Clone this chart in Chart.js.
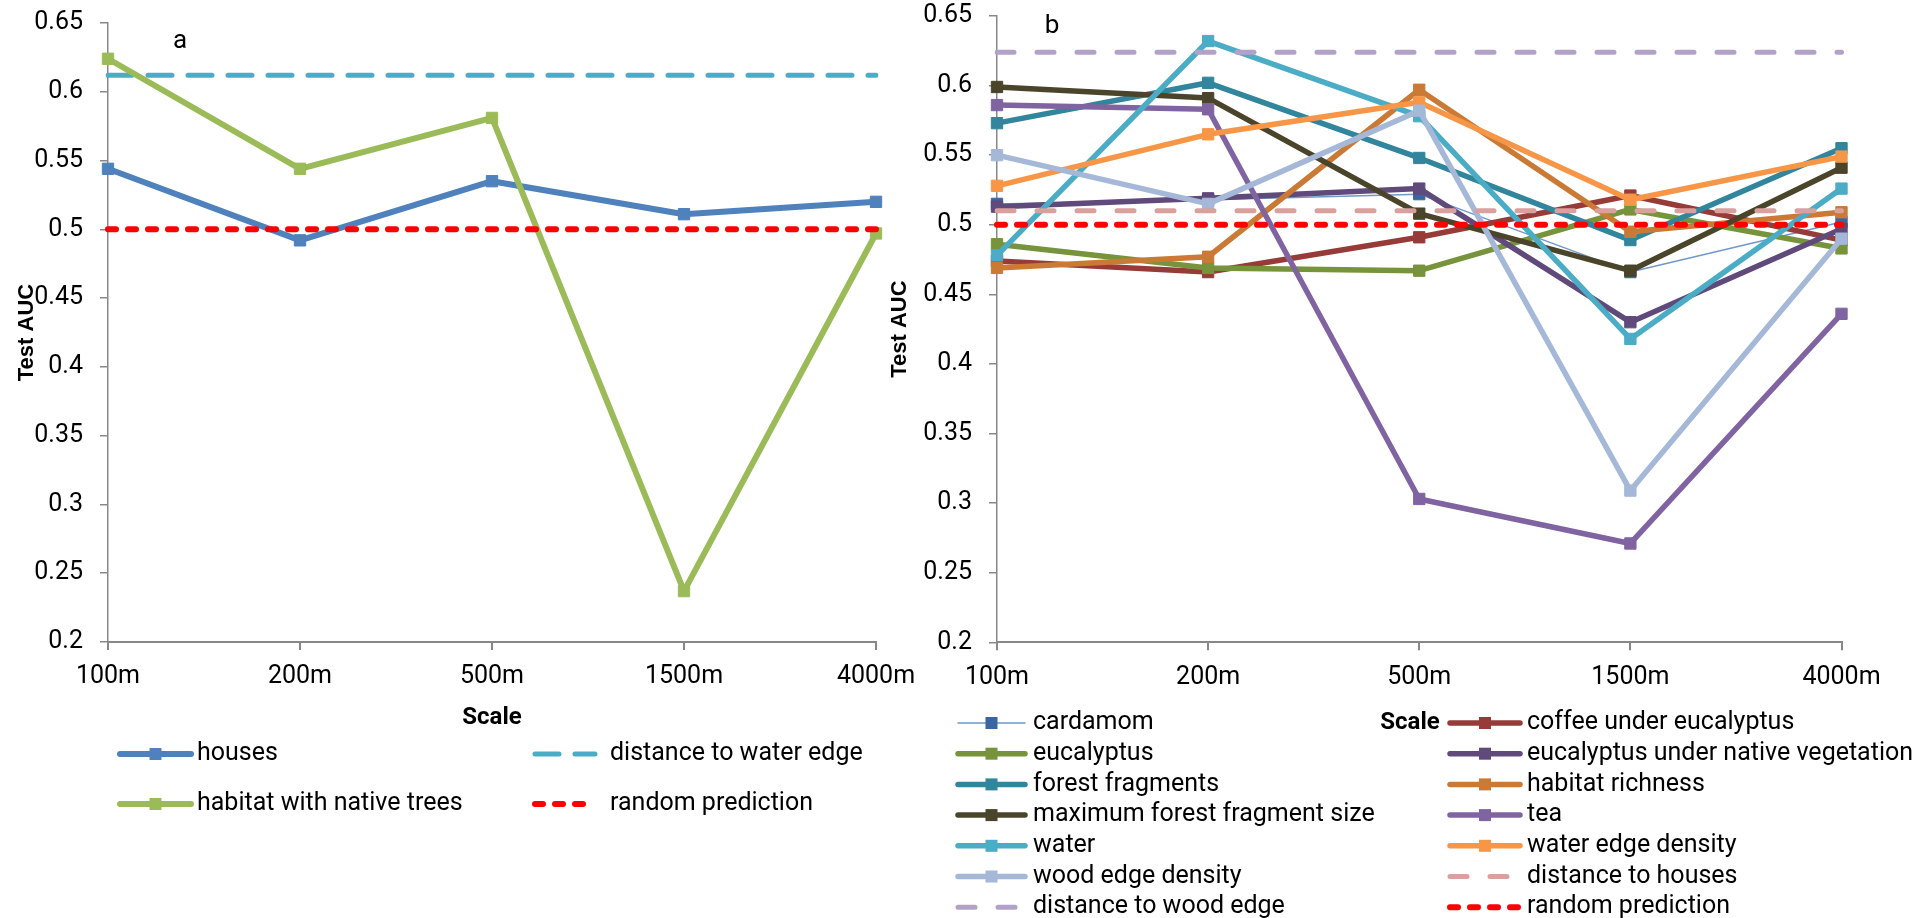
<!DOCTYPE html>
<html lang="en">
<head>
    <meta charset="UTF-8">
    <title>Test AUC by scale</title>
    <style>
        body { margin: 0; background: #fff; }
        .panel { position: absolute; top: 0; height: 918px; }
        #panelA { left: 0; width: 930px; }
        #panelB { left: 870px; width: 1058px; }
    </style>
    <script src="https://cdn.jsdelivr.net/npm/chart.js"></script>
</head>
<body>
    <div class="panel" id="panelA"><canvas id="chartA"></canvas></div>
    <div class="panel" id="panelB"><canvas id="chartB"></canvas></div>

    <script>
        // categories and tick labels
        const scaleLabels = ['100m', '200m', '500m', '1500m', '4000m'];
        const yTicks = [0.2, 0.25, 0.3, 0.35, 0.4, 0.45, 0.5, 0.55, 0.6, 0.65];

        // panel a
        const houses = [0.544, 0.492, 0.535, 0.511, 0.520];
        const distanceToWaterEdge = [0.612, 0.612, 0.612, 0.612, 0.612];
        const habitatNativeTrees = [0.624, 0.544, 0.581, 0.237, 0.497];
        const randomPrediction = [0.5, 0.5, 0.5, 0.5, 0.5];

        // panel b
        const cardamom = [0.515, 0.518, 0.522, 0.466, 0.502];
        const coffeeUnderEucalyptus = [0.474, 0.466, 0.491, 0.521, 0.489];
        const eucalyptus = [0.486, 0.469, 0.467, 0.511, 0.483];
        const eucalyptusUnderNative = [0.513, 0.519, 0.526, 0.430, 0.497];
        const forestFragments = [0.573, 0.602, 0.548, 0.489, 0.555];
        const habitatRichness = [0.469, 0.477, 0.597, 0.495, 0.509];
        const maxForestFragment = [0.599, 0.591, 0.508, 0.467, 0.541];
        const tea = [0.586, 0.583, 0.303, 0.271, 0.436];
        const water = [0.478, 0.632, 0.578, 0.418, 0.526];
        const waterEdgeDensity = [0.528, 0.565, 0.588, 0.518, 0.549];
        const woodEdgeDensity = [0.550, 0.515, 0.582, 0.309, 0.490];
        const distanceToHouses = [0.51, 0.51, 0.51, 0.51, 0.51];
        const distanceToWoodEdge = [0.624, 0.624, 0.624, 0.624, 0.624];

        Chart.defaults.font.family = 'Roboto';
        Chart.defaults.color = '#000';

        function solid(label, data, color, width, marker) {
            return {
                label: label, data: data,
                borderColor: color, borderWidth: width,
                pointStyle: 'rect', pointRadius: 8, pointHoverRadius: 8,
                pointBackgroundColor: marker || color, pointBorderColor: marker || color,
                pointBorderWidth: 1,
                borderCapStyle: 'round', borderJoinStyle: 'round',
                tension: 0, fill: false
            };
        }

        function dashed(label, data, color, width, dash) {
            return {
                label: label, data: data,
                borderColor: color, borderWidth: width, borderDash: dash,
                borderCapStyle: 'round', pointRadius: 0, pointHoverRadius: 0,
                tension: 0, fill: false
            };
        }

        // legend drawn in two columns, like the original, plus axis title and panel letter
        const legendPlugin = {
            id: 'twoColLegend',
            afterDraw(chart, args, opts) {
                const ctx = chart.ctx;
                const dx = opts.offsetX;
                ctx.save();
                chart.data.datasets.forEach((ds, i) => {
                    const c = opts.columns[i % 2];
                    const y = opts.rowTop + Math.floor(i / 2) * opts.rowGap;
                    const x0 = c.x - dx;
                    ctx.save();
                    ctx.strokeStyle = ds.borderColor;
                    ctx.lineWidth = ds.borderWidth;
                    ctx.lineCap = 'round';
                    ctx.setLineDash(ds.borderDash || []);
                    ctx.beginPath();
                    ctx.moveTo(x0, y);
                    ctx.lineTo(x0 + c.len, y);
                    ctx.stroke();
                    ctx.restore();
                    if (ds.pointRadius > 0) {
                        ctx.fillStyle = ds.pointBackgroundColor;
                        ctx.fillRect(x0 + c.len / 2 - 6, y - 6, 12, 12);
                    }
                    ctx.fillStyle = '#000';
                    ctx.font = '25px Roboto';
                    ctx.textBaseline = 'middle';
                    ctx.textAlign = 'left';
                    ctx.fillText(ds.label, c.textX - dx, y);
                });
                ctx.textAlign = 'center';
                ctx.font = 'bold 24px Roboto';
                ctx.fillText('Scale', opts.xTitle.x - dx, opts.xTitle.y);
                ctx.font = '26px Roboto';
                ctx.textBaseline = 'alphabetic';
                ctx.fillText(opts.letter.text, opts.letter.x - dx, opts.letter.y);
                ctx.restore();
            }
        };

        function makeChart(id, datasets, cfg) {
            datasets.forEach((d, i) => { d.order = -i; });
            return new Chart(document.getElementById(id), {
                type: 'line',
                data: { labels: scaleLabels, datasets: datasets },
                plugins: [legendPlugin],
                options: {
                    responsive: true,
                    maintainAspectRatio: false,
                    animation: false,
                    events: [],
                    layout: { padding: { left: 0, top: cfg.top, right: cfg.right, bottom: 0 } },
                    plugins: {
                        legend: { display: false },
                        tooltip: { enabled: false },
                        twoColLegend: cfg.legend
                    },
                    scales: {
                        x: {
                            offset: false,
                            grid: { drawOnChartArea: false, drawTicks: true, tickLength: 8, color: '#888', lineWidth: 2, offset: false },
                            border: { color: '#888', width: 2 },
                            ticks: { font: { size: 25 }, padding: 12, maxRotation: 0, autoSkip: false },
                            afterFit: s => { s.height = cfg.xHeight; }
                        },
                        y: {
                            min: 0.2, max: 0.65,
                            afterBuildTicks: s => { s.ticks = yTicks.map(v => ({ value: v })); },
                            grid: { drawOnChartArea: false, drawTicks: true, tickLength: 8, color: '#888', lineWidth: 1.5 },
                            border: { color: '#888', width: 1.5 },
                            ticks: { font: { size: 25 }, padding: 17, callback: v => String(v) },
                            title: { display: true, text: 'Test AUC', font: { family: 'Liberation Sans', size: 22, weight: 'bold' }, padding: { top: cfg.yTitlePad, bottom: 0 } },
                            afterFit: s => {
                                s.width = cfg.yWidth;
                                s.paddingTop = 0;
                                s.paddingBottom = 0;
                            }
                        }
                    }
                }
            });
        }

        makeChart('chartA', [
            solid('houses', houses, '#4F81BD', 6),
            dashed('distance to water edge', distanceToWaterEdge, '#4BACC6', 5, [24, 16]),
            solid('habitat with native trees', habitatNativeTrees, '#9BBB59', 6),
            dashed('random prediction', randomPrediction, '#FF0000', 6, [8, 12])
        ], {
            top: 23, right: 54, xHeight: 276, yWidth: 108, yTitlePad: 14,
            legend: {
                offsetX: 0, rowTop: 754, rowGap: 50,
                columns: [{ x: 120, len: 71, textX: 197 }, { x: 535, len: 60, textX: 610 }],
                xTitle: { x: 492, y: 718 },
                letter: { text: 'a', x: 180, y: 48 }
            }
        });

        makeChart('chartB', [
            solid('cardamom', cardamom, '#7198C8', 1.5, '#3B64A3'),
            solid('coffee under eucalyptus', coffeeUnderEucalyptus, '#973B39', 5.5),
            solid('eucalyptus', eucalyptus, '#77933C', 5.5),
            solid('eucalyptus under native vegetation', eucalyptusUnderNative, '#604A7B', 5.5),
            solid('forest fragments', forestFragments, '#31859C', 5.5),
            solid('habitat richness', habitatRichness, '#CB7A36', 5.5),
            solid('maximum forest fragment size', maxForestFragment, '#4A452A', 5.5),
            solid('tea', tea, '#8064A2', 5.5),
            solid('water', water, '#4BACC6', 5.5),
            solid('water edge density', waterEdgeDensity, '#F79646', 5.5),
            solid('wood edge density', woodEdgeDensity, '#A5B8D8', 5.5),
            dashed('distance to houses', distanceToHouses, '#D9A09E', 5, [17, 23]),
            dashed('distance to wood edge', distanceToWoodEdge, '#B3A2C7', 5, [17, 23]),
            dashed('random prediction', randomPrediction, '#FF0000', 6, [8, 12])
        ], {
            top: 16, right: 86.5, xHeight: 275.7, yWidth: 127, yTitlePad: 17,
            legend: {
                offsetX: 870, rowTop: 723, rowGap: 30.7,
                columns: [{ x: 958, len: 67, textX: 1033 }, { x: 1450, len: 70, textX: 1527 }],
                xTitle: { x: 1410, y: 723 },
                letter: { text: 'b', x: 1052, y: 33 }
            }
        });
    </script>
</body>
</html>
